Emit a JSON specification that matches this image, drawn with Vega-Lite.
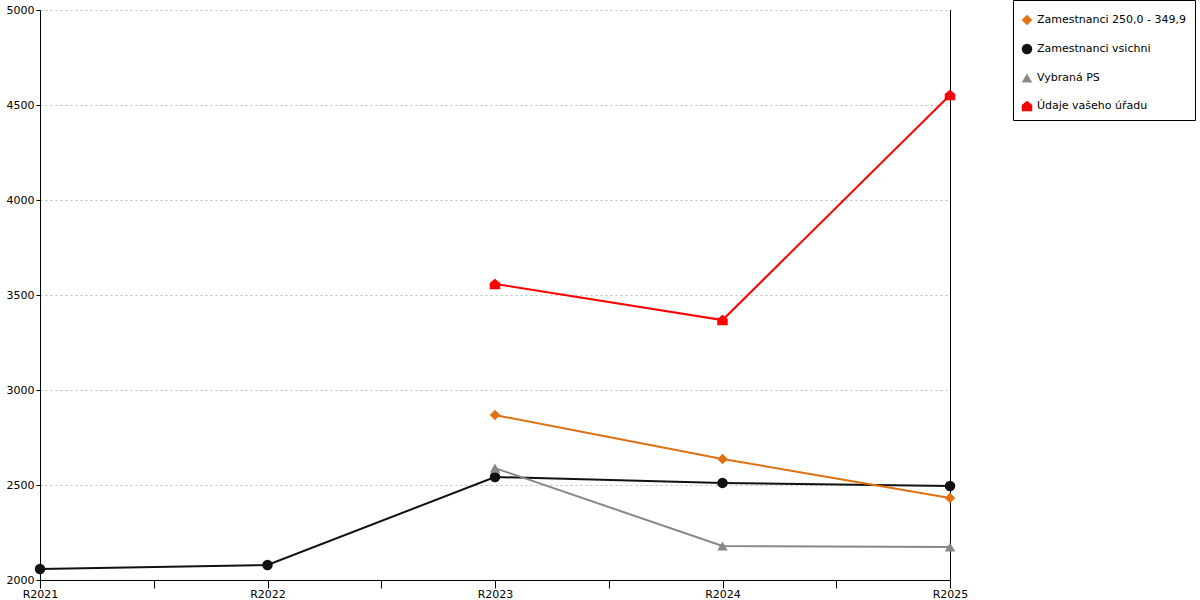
{
  "$schema": "https://vega.github.io/schema/vega-lite/v6.json",
  "width": 910,
  "height": 570,
  "autosize": {"type": "none"},
  "padding": {"left": 40, "top": 10, "right": 250, "bottom": 20},
  "background": "white",
  "data": {
    "values": [
      {"rok": 2021, "serie": "Zamestnanci vsichni", "hodnota": 2058},
      {"rok": 2022, "serie": "Zamestnanci vsichni", "hodnota": 2079},
      {"rok": 2023, "serie": "Zamestnanci vsichni", "hodnota": 2542},
      {"rok": 2024, "serie": "Zamestnanci vsichni", "hodnota": 2511},
      {"rok": 2025, "serie": "Zamestnanci vsichni", "hodnota": 2495},
      {"rok": 2023, "serie": "Zamestnanci 250,0 - 349,9", "hodnota": 2868},
      {"rok": 2024, "serie": "Zamestnanci 250,0 - 349,9", "hodnota": 2637},
      {"rok": 2025, "serie": "Zamestnanci 250,0 - 349,9", "hodnota": 2432},
      {"rok": 2023, "serie": "Vybraná PS", "hodnota": 2589},
      {"rok": 2024, "serie": "Vybraná PS", "hodnota": 2179},
      {"rok": 2025, "serie": "Vybraná PS", "hodnota": 2174},
      {"rok": 2023, "serie": "Údaje vašeho úřadu", "hodnota": 3558},
      {"rok": 2024, "serie": "Údaje vašeho úřadu", "hodnota": 3368},
      {"rok": 2025, "serie": "Údaje vašeho úřadu", "hodnota": 4553}
    ]
  },
  "encoding": {
    "x": {
      "field": "rok",
      "type": "quantitative",
      "scale": {"domain": [2021, 2025], "nice": false, "zero": false},
      "axis": {
        "title": null,
        "values": [2021, 2021.5, 2022, 2022.5, 2023, 2023.5, 2024, 2024.5, 2025],
        "labelExpr": "datum.value % 1 == 0 ? 'R' + datum.value : ''",
        "grid": false,
        "tickSize": 8,
        "labelPadding": 0,
        "labelFlush": false
      }
    },
    "y": {
      "field": "hodnota",
      "type": "quantitative",
      "scale": {"domain": [2000, 5000], "nice": false, "zero": false},
      "axis": {
        "title": null,
        "values": [2000, 2500, 3000, 3500, 4000, 4500, 5000],
        "format": "d",
        "grid": true,
        "gridColor": "#bbbbbb",
        "gridDash": [2, 3],
        "tickSize": 4,
        "labelPadding": 2
      }
    }
  },
  "resolve": {"legend": {"color": "independent", "shape": "independent"}},
  "layer": [
    {
      "mark": {"type": "line", "strokeWidth": 2},
      "encoding": {
        "color": {
          "field": "serie",
          "type": "nominal",
          "scale": {
            "domain": ["Zamestnanci 250,0 - 349,9", "Zamestnanci vsichni", "Vybraná PS", "Údaje vašeho úřadu"],
            "range": ["#e07010", "#111111", "#888888", "#ff0000"]
          },
          "legend": null
        }
      }
    },
    {
      "mark": {"type": "rule", "color": "black", "strokeWidth": 1, "xOffset": 0.5},
      "encoding": {
        "x": {"datum": 2025},
        "y": {"datum": 2000},
        "y2": {"datum": 5000}
      }
    },
    {
      "mark": {"type": "point", "filled": true, "opacity": 1, "size": 110},
      "encoding": {
        "color": {
          "field": "serie",
          "type": "nominal",
          "legend": {
            "title": " ",
            "titleFontSize": 1,
            "titlePadding": 5,
            "orient": "none",
            "legendX": 973,
            "legendY": -10,
            "strokeColor": "black",
            "fillColor": "white",
            "padding": 8,
            "rowPadding": 17,
            "labelFontSize": 11,
            "labelFont": "DejaVu Sans",
            "labelColor": "black",
            "labelLimit": 250,
            "symbolSize": 110,
            "labelOffset": 4
          }
        },
        "shape": {
          "field": "serie",
          "type": "nominal",
          "scale": {
            "domain": ["Zamestnanci 250,0 - 349,9", "Zamestnanci vsichni", "Vybraná PS", "Údaje vašeho úřadu"],
            "range": ["diamond", "circle", "triangle-up", "M-1,1L1,1L1,-0.2L0,-1L-1,-0.2Z"]
          },
          "legend": {
            "title": " ",
            "orient": "none",
            "legendX": 973,
            "legendY": -10
          }
        }
      }
    }
  ],
  "config": {
    "font": "DejaVu Sans",
    "view": {"stroke": null},
    "axis": {
      "domainColor": "black",
      "tickColor": "black",
      "labelColor": "black",
      "labelFontSize": 11,
      "labelFont": "DejaVu Sans"
    }
  }
}
